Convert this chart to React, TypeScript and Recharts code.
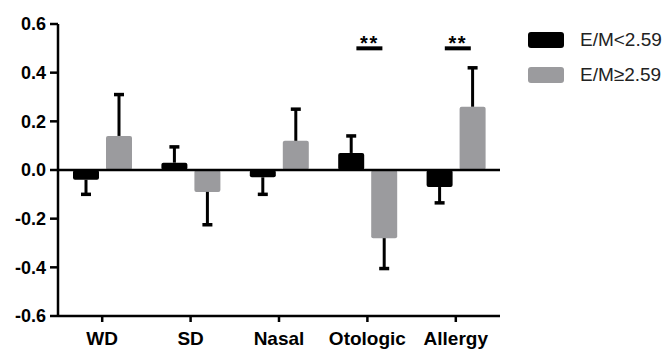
import React from 'react';
import { BarChart, Bar, XAxis, YAxis, ReferenceLine, ReferenceDot, Legend } from 'recharts';

const categories = ['WD', 'SD', 'Nasal', 'Otologic', 'Allergy'];
const lowValues = [-0.04, 0.03, -0.03, 0.07, -0.07];
const lowErrors = [0.06, 0.065, 0.07, 0.07, 0.065];
const highValues = [0.14, -0.09, 0.12, -0.28, 0.26];
const highErrors = [0.17, 0.135, 0.13, 0.125, 0.16];
const seriesNames = ['E/M<2.59', 'E/M≥2.59'];
const seriesColors = ['#000000', '#9b9b9e'];
const yTicks = [-0.6, -0.4, -0.2, 0, 0.2, 0.4, 0.6];
const sigCategories = ['Otologic', 'Allergy'];
const sigLevel = 0.5;

const data = categories.map((name, i) => ({
  name,
  low: lowValues[i],
  lowErr: lowErrors[i],
  high: highValues[i],
  highErr: highErrors[i],
}));

const FONT = '"Liberation Sans", Arial, sans-serif';

// bar + one-sided error bar, error length scaled from the bar's own pixel height
const makeBarShape = (valueKey: string, errKey: string) => (props: any) => {
  const { x, y, width, height, fill, payload } = props;
  const v = payload[valueKey];
  const top = Math.min(y, y + height);
  const h = Math.abs(height);
  const pxPerUnit = v !== 0 ? h / Math.abs(v) : 0;
  const errPx = payload[errKey] * pxPerUnit;
  const cx = x + width / 2;
  const start = v >= 0 ? top : top + h;
  const end = v >= 0 ? start - errPx : start + errPx;
  return (
    <g>
      <rect x={x} y={top} width={width} height={h} rx={2} fill={fill} />
      <line x1={cx} x2={cx} y1={start} y2={end} stroke="#000" strokeWidth={3} />
      <line x1={cx - 5} x2={cx + 5} y1={end} y2={end} stroke="#000" strokeWidth={3.5} />
    </g>
  );
};

const SigMark = (props: any) => {
  const { cx, cy } = props;
  const mid = cx + 2;
  return (
    <g>
      <line x1={mid - 13} x2={mid + 13} y1={cy} y2={cy} stroke="#000" strokeWidth={4} />
      <text x={mid} y={cy + 2} textAnchor="middle" fontSize={20} fontWeight="bold" fontFamily={FONT} letterSpacing={1.5} fill="#000">
        **
      </text>
    </g>
  );
};

const renderLegend = (props: any) => {
  const { payload } = props;
  return (
    <div style={{ fontFamily: FONT }}>
      {(payload || []).map((entry: any, i: number) => (
        <div key={i} style={{ display: 'flex', alignItems: 'center', height: 16, marginBottom: 19 }}>
          <span style={{ display: 'inline-block', width: 36, height: 16, borderRadius: 3, background: entry.color }} />
          <span style={{ marginLeft: 16, fontSize: 19, color: '#222', lineHeight: '16px' }}>{entry.value}</span>
        </div>
      ))}
    </div>
  );
};

export default function App() {
  return (
    <div style={{ position: 'absolute', left: 0, top: 0, background: '#fff' }}>
      <BarChart
        width={670}
        height={351}
        data={data}
        margin={{ top: 24, right: 170, bottom: 0, left: 8 }}
        barSize={26}
        barGap={7}
      >
        <XAxis
          dataKey="name"
          height={35}
          interval={0}
          axisLine={{ stroke: '#000', strokeWidth: 2.5 }}
          tickLine={{ stroke: '#000', strokeWidth: 2.5 }}
          tickSize={6}
          tickMargin={10}
          tick={{ fill: '#000', fontSize: 19, fontWeight: 'bold', fontFamily: FONT }}
        />
        <YAxis
          domain={[-0.6, 0.6]}
          ticks={yTicks}
          width={50}
          allowDataOverflow
          axisLine={{ stroke: '#000', strokeWidth: 2.5 }}
          tickLine={{ stroke: '#000', strokeWidth: 2.5 }}
          tickSize={8}
          tickMargin={4}
          tickFormatter={(v: number) => v.toFixed(1)}
          tick={{ fill: '#000', fontSize: 18, fontWeight: 'bold', fontFamily: FONT }}
        />
        <ReferenceLine y={0} stroke="#000" strokeWidth={2.5} />
        <Bar
          dataKey="low"
          name={seriesNames[0]}
          fill={seriesColors[0]}
          shape={makeBarShape('low', 'lowErr')}
          isAnimationActive={false}
        />
        <Bar
          dataKey="high"
          name={seriesNames[1]}
          fill={seriesColors[1]}
          shape={makeBarShape('high', 'highErr')}
          isAnimationActive={false}
        />
        {sigCategories.map((c) => (
          <ReferenceDot key={c} x={c} y={sigLevel} r={1} shape={SigMark} />
        ))}
        <Legend
          layout="vertical"
          align="center"
          verticalAlign="middle"
          content={renderLegend}
          wrapperStyle={{ left: 528, top: 32, width: 142, height: 60 }}
        />
      </BarChart>
    </div>
  );
}
